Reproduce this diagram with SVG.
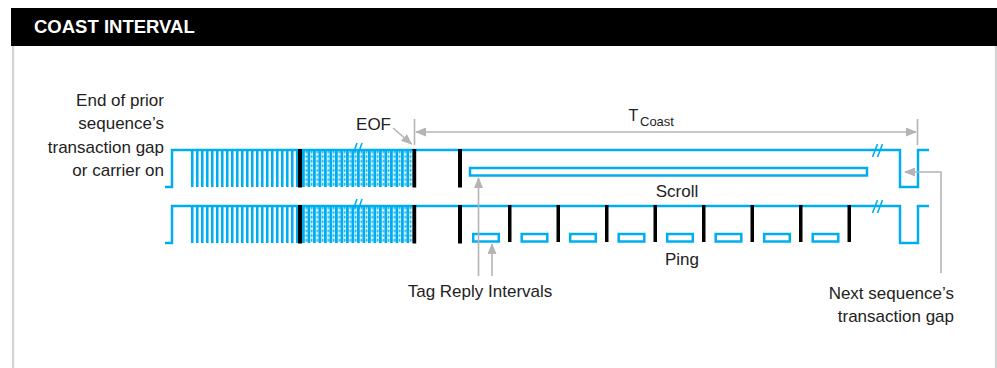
<svg xmlns="http://www.w3.org/2000/svg" xmlns:xlink="http://www.w3.org/1999/xlink" width="997" height="368" viewBox="0 0 997 368">
<style>
.t{font-family:"Liberation Sans",Arial,sans-serif;font-size:17px;fill:#222}
.wave{fill:none;stroke:#00aeef;stroke-width:2.5}
.comb{stroke:#00aeef;stroke-width:2.6}
.blk{fill:#000}
.box{fill:none;stroke:#00aeef;stroke-width:2.5}
.brk{stroke:#00aeef;stroke-width:1.6}
.arr{fill:none;stroke:#b4b4b4;stroke-width:1.6}
</style>
<defs>
<marker id="ah" markerUnits="userSpaceOnUse" markerWidth="11" markerHeight="9" refX="10" refY="4.5" orient="auto-start-reverse">
<path d="M0,0 L11,4.5 L0,9 z" fill="#b4b4b4"/>
</marker>
<pattern id="dense" patternUnits="userSpaceOnUse" x="302" y="150" width="5.5" height="4.6">
<rect width="5.5" height="4.6" fill="#fff"/>
<rect x="0" y="0" width="2.8" height="4.6" fill="#00aeef"/>
<rect x="3.5" y="0.5" width="1.5" height="2.9" fill="#00aeef"/>
</pattern>
<g id="row">
<path class="comb" d="M192.25,150V187M197.25,150V187M202.25,150V187M207.25,150V187M212.25,150V187M217.25,150V187M222.25,150V187M227.25,150V187M232.25,150V187M237.25,150V187M242.25,150V187M247.25,150V187M252.25,150V187M257.25,150V187M262.25,150V187M267.25,150V187M272.25,150V187M277.25,150V187M282.25,150V187M287.25,150V187M292.25,150V187M297.25,150V187"/>
<rect x="302" y="150" width="110.5" height="37" fill="url(#dense)"/>
<path class="wave" d="M165,187H172V150H900V187H918V150H929"/>
<rect class="blk" x="298" y="149" width="4" height="38.5"/>
<rect class="blk" x="412.5" y="149" width="3.7" height="38.5"/>
<rect class="blk" x="458" y="149" width="4" height="38.5"/>
<path class="brk" d="M352.5,156L357,143M357.5,156L362,143"/>
<path class="brk" d="M872.5,157L877.5,144M877.5,157L882.5,144"/>
</g>
</defs>
<g id="frame">
<rect x="11" y="8" width="986" height="38" fill="#000"/>
<text x="34" y="33" font-family="'Liberation Sans',Arial,sans-serif" font-weight="bold" font-size="18.5" fill="#fff">COAST INTERVAL</text>
<rect x="12" y="46" width="2.2" height="322" fill="#d4d4d4"/>
<rect x="994.8" y="46" width="2.2" height="322" fill="#d4d4d4"/>
</g>
<g id="scroll-row">
<use xlink:href="#row"/>
<rect class="box" x="470" y="168" width="397" height="7.5"/>
<text class="t" x="677" y="197" text-anchor="middle">Scroll</text>
</g>
<g id="ping-row">
<use xlink:href="#row" y="56"/>
<g class="blk">
<rect x="508" y="205" width="3.5" height="37"/>
<rect x="556.5" y="205" width="3.5" height="37"/>
<rect x="605" y="205" width="3.5" height="37"/>
<rect x="653.5" y="205" width="3.5" height="37"/>
<rect x="702" y="205" width="3.5" height="37"/>
<rect x="750.5" y="205" width="3.5" height="37"/>
<rect x="799" y="205" width="3.5" height="37"/>
<rect x="847.5" y="205" width="3.5" height="37"/>
</g>
<g class="box">
<rect x="473.2" y="234" width="25.6" height="7.5"/>
<rect x="521.7" y="234" width="25.6" height="7.5"/>
<rect x="570.2" y="234" width="25.6" height="7.5"/>
<rect x="618.7" y="234" width="25.6" height="7.5"/>
<rect x="667.2" y="234" width="25.6" height="7.5"/>
<rect x="715.7" y="234" width="25.6" height="7.5"/>
<rect x="764.2" y="234" width="25.6" height="7.5"/>
<rect x="812.7" y="234" width="25.6" height="7.5"/>
</g>
<text class="t" x="682" y="265" text-anchor="middle">Ping</text>
</g>
<g id="prior-label">
<text class="t" text-anchor="end"><tspan x="164" y="105.5">End of prior</tspan><tspan x="164" y="129">sequence’s</tspan><tspan x="164" y="152.5">transaction gap</tspan><tspan x="164" y="176">or carrier on</tspan></text>
</g>
<g id="eof-label">
<text class="t" x="391" y="130" text-anchor="end">EOF</text>
</g>
<g id="tcoast-label">
<text class="t" x="628.5" y="121" style="font-size:16px">T</text>
<text class="t" x="640" y="126" style="font-size:13px">Coast</text>
</g>
<g id="tag-label">
<text class="t" x="480" y="297" text-anchor="middle">Tag Reply Intervals</text>
</g>
<g id="next-label">
<text class="t" text-anchor="end"><tspan x="954" y="299">Next sequence’s</tspan><tspan x="954" y="322">transaction gap</tspan></text>
</g>
<g id="connectors">
<path class="arr" d="M414.5,119V145M917.5,119V145"/>
<path class="arr" d="M416,132H916" marker-start="url(#ah)" marker-end="url(#ah)"/>
<path class="arr" d="M393,128L411.5,144" marker-end="url(#ah)"/>
<path class="arr" d="M478.5,276V178" marker-end="url(#ah)"/>
<path class="arr" d="M492,276V244" marker-end="url(#ah)"/>
<path class="arr" d="M941,273V172H905" marker-end="url(#ah)"/>
</g>
</svg>
